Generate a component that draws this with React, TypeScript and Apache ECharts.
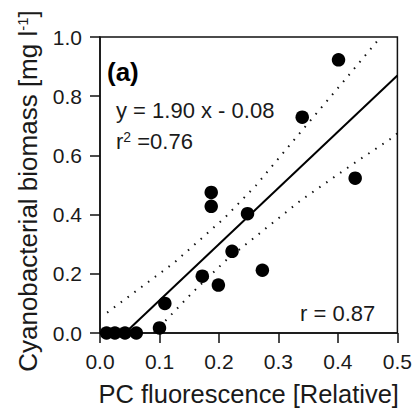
import React, { useEffect, useRef } from "react";
import * as echarts from "echarts";

const xTicks = ["0.0", "0.1", "0.2", "0.3", "0.4", "0.5"];
const yTicks = ["0.0", "0.2", "0.4", "0.6", "0.8", "1.0"];

const pcFluorescence = [0.011, 0.025, 0.042, 0.061, 0.1, 0.109, 0.172, 0.199, 0.222, 0.187, 0.187, 0.248, 0.273, 0.34, 0.401, 0.429];
const cyanoBiomass = [0.0, 0.0, 0.0, 0.0, 0.017, 0.1, 0.192, 0.162, 0.276, 0.428, 0.475, 0.403, 0.212, 0.729, 0.923, 0.523];

const fitX = [0.042, 0.5];
const fitY = [0.0, 0.87];

const upperX = [0.012, 0.125, 0.209, 0.262, 0.334, 0.415, 0.463, 0.472];
const upperY = [0.069, 0.238, 0.388, 0.498, 0.671, 0.863, 0.979, 1.0];

const lowerX = [0.09, 0.117, 0.156, 0.212, 0.337, 0.421, 0.493, 0.5];
const lowerY = [0.0, 0.056, 0.138, 0.246, 0.447, 0.565, 0.662, 0.675];

const FONT = "'Liberation Sans', Arial, sans-serif";
const TXT = "#1a1a1a";

export default function App() {
  const ref = useRef<HTMLDivElement>(null);
  useEffect(() => {
    if (!ref.current) return;
    const chart = echarts.init(ref.current, undefined, { renderer: "svg" });
    const pts = pcFluorescence.map((x, i) => [x, cyanoBiomass[i]]);
    const zip = (a: number[], b: number[]) => a.map((v, i) => [v, b[i]]);
    chart.setOption({
      animation: false,
      backgroundColor: "#fff",
      grid: { left: 100, right: 15, top: 37, bottom: 77, show: true, borderColor: "#111", borderWidth: 1.5, containLabel: false },
      xAxis: {
        type: "value",
        min: 0,
        max: 0.5,
        interval: 0.1,
        name: "PC fluorescence [Relative]",
        nameLocation: "middle",
        nameGap: 48,
        nameTextStyle: { fontSize: 25.5, color: TXT, fontFamily: FONT },
        axisLine: { show: true, lineStyle: { color: "#111", width: 1.5 } },
        axisTick: { show: true, inside: false, length: 10, lineStyle: { color: "#111", width: 1.5 } },
        axisLabel: { fontSize: 21, color: TXT, fontFamily: FONT, margin: 18, formatter: (v: number) => xTicks[Math.round(v * 10)] },
        splitLine: { show: false },
      },
      yAxis: {
        type: "value",
        min: 0,
        max: 1,
        interval: 0.2,
        axisLine: { show: true, lineStyle: { color: "#111", width: 1.5 } },
        axisTick: { show: true, inside: false, length: 10, lineStyle: { color: "#111", width: 1.5 } },
        axisLabel: { fontSize: 21, color: TXT, fontFamily: FONT, margin: 18, formatter: (v: number) => yTicks[Math.round(v * 5)] },
        splitLine: { show: false },
      },
      graphic: [
        {
          type: "text",
          x: 28,
          y: 191,
          rotation: Math.PI / 2,
          style: {
            text: "{a|Cyanobacterial biomass [mg l}{s|-1}{a|]}",
            align: "center",
            verticalAlign: "middle",
            fill: TXT,
            rich: {
              a: { fontSize: 26, fontFamily: FONT, fill: TXT },
              s: { fontSize: 15, fontFamily: FONT, fill: TXT, verticalAlign: "top" },
            },
          },
        },
        {
          type: "text",
          x: 107,
          y: 72,
          style: { text: "(a)", fontSize: 26, fontWeight: "bold", fontFamily: FONT, fill: "#000", align: "left", verticalAlign: "middle" },
        },
        {
          type: "text",
          x: 116,
          y: 110,
          style: { text: "y = 1.90 x - 0.08", fontSize: 22, fontFamily: FONT, fill: TXT, align: "left", verticalAlign: "middle" },
        },
        {
          type: "text",
          x: 116,
          y: 141,
          style: {
            text: "{a|r}{s|2}{a| =0.76}",
            align: "left",
            verticalAlign: "middle",
            fill: TXT,
            rich: {
              a: { fontSize: 22, fontFamily: FONT, fill: TXT },
              s: { fontSize: 14, fontFamily: FONT, fill: TXT, verticalAlign: "top" },
            },
          },
        },
        {
          type: "text",
          x: 300,
          y: 313,
          style: { text: "r = 0.87", fontSize: 22, fontFamily: FONT, fill: TXT, align: "left", verticalAlign: "middle" },
        },
      ],
      series: [
        {
          type: "line",
          data: zip(upperX, upperY),
          showSymbol: false,
          symbol: "none",
          lineStyle: { color: "#111", width: 2, type: [1.5, 7] },
          silent: true,
          z: 2,
        },
        {
          type: "line",
          data: zip(lowerX, lowerY),
          showSymbol: false,
          symbol: "none",
          lineStyle: { color: "#111", width: 2, type: [1.5, 7] },
          silent: true,
          z: 2,
        },
        {
          type: "line",
          data: zip(fitX, fitY),
          showSymbol: false,
          symbol: "none",
          lineStyle: { color: "#000", width: 2 },
          silent: true,
          z: 3,
        },
        {
          type: "scatter",
          data: pts,
          symbol: "circle",
          symbolSize: 13.5,
          itemStyle: { color: "#000", opacity: 1 },
          clip: false,
          z: 4,
        },
      ],
    });
    return () => chart.dispose();
  }, []);
  return <div ref={ref} style={{ position: "fixed", left: 0, top: 0, width: 415, height: 412 }} />;
}
